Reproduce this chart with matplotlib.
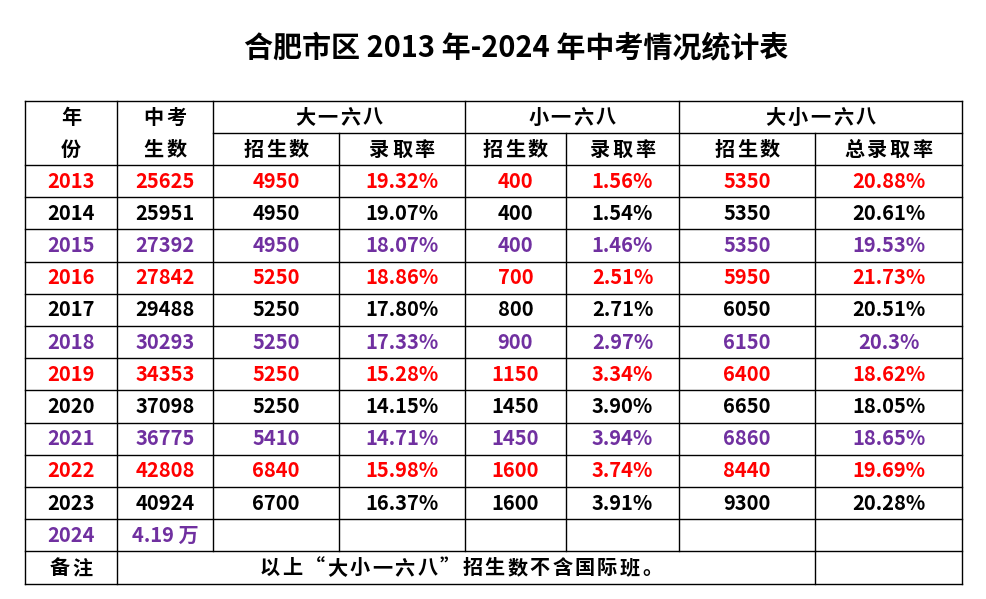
import matplotlib
matplotlib.use("Agg")
import matplotlib.pyplot as plt

plt.rcParams['font.family'] = ['Noto Sans CJK SC', 'DejaVu Sans']

title = "合肥市区 2013 年-2024 年中考情况统计表"
years = ["2013", "2014", "2015", "2016", "2017", "2018", "2019", "2020", "2021", "2022", "2023", "2024"]
exam_students = ["25625", "25951", "27392", "27842", "29488", "30293", "34353", "37098", "36775", "42808", "40924", "4.19 万"]
big_enroll = ["4950", "4950", "4950", "5250", "5250", "5250", "5250", "5250", "5410", "6840", "6700"]
big_rate = ["19.32%", "19.07%", "18.07%", "18.86%", "17.80%", "17.33%", "15.28%", "14.15%", "14.71%", "15.98%", "16.37%"]
small_enroll = ["400", "400", "400", "700", "800", "900", "1150", "1450", "1450", "1600", "1600"]
small_rate = ["1.56%", "1.54%", "1.46%", "2.51%", "2.71%", "2.97%", "3.34%", "3.90%", "3.94%", "3.74%", "3.91%"]
total_enroll = ["5350", "5350", "5350", "5950", "6050", "6150", "6400", "6650", "6860", "8440", "9300"]
total_rate = ["20.88%", "20.61%", "19.53%", "21.73%", "20.51%", "20.3%", "18.62%", "18.05%", "18.65%", "19.69%", "20.28%"]
group_headers = ["大一六八", "小一六八", "大小一六八"]
sub_headers = ["招生数", "录取率", "招生数", "录取率", "招生数", "总录取率"]
note_label = "备注"
note_text = "以上“大小一六八”招生数不含国际班。"

row_colors = ["#FF0000", "#000000", "#7030A0"]

W, H = 987, 599
fig = plt.figure(figsize=(W / 100, H / 100), dpi=100)
ax = fig.add_axes([0, 0, 1, 1])
ax.set_xlim(0, W)
ax.set_ylim(H, 0)
ax.axis('off')

xs = [25, 117, 213, 339, 465, 566, 679, 815, 962]
y_top = 101
y_mid = 133
y_hdr = 165
rh = 32.2
n_data = len(big_enroll)
y_rows = [y_hdr + i * rh for i in range(n_data + 3)]
y_bottom = y_rows[-1]

lw = 1.0
def hline(x0, x1, y):
    ax.plot([x0, x1], [y, y], color='black', lw=lw, solid_capstyle='projecting')
def vline(x, y0, y1):
    ax.plot([x, x], [y0, y1], color='black', lw=lw, solid_capstyle='projecting')

hline(xs[0], xs[-1], y_top)
hline(xs[2], xs[-1], y_mid)
for y in y_rows:
    hline(xs[0], xs[-1], y)
vline(xs[0], y_top, y_bottom)
vline(xs[-1], y_top, y_bottom)
vline(xs[1], y_top, y_bottom)
vline(xs[2], y_top, y_rows[-2])
for xi in [3, 5, 7]:
    vline(xs[xi], y_mid, y_rows[-2])
vline(xs[4], y_top, y_rows[-2])
vline(xs[6], y_top, y_rows[-2])
vline(xs[7], y_rows[-2], y_bottom)

fs = 14.5
def txt(x, y, s, color='black', size=fs):
    ax.text(x, y, s, ha='center', va='center', fontsize=size, fontweight='bold', color=color)

def spaced(x, y, s, color='black', pitch=22.5, size=fs):
    n = len(s)
    x0 = x - (n - 1) * pitch / 2
    for i, ch in enumerate(s):
        ax.text(x0 + i * pitch, y, ch, ha='center', va='center', fontsize=size,
                fontweight='bold', color=color)

ax.text(516, 47, title, ha='center', va='center', fontsize=20.9, fontweight='bold', color='black')

cx = [(xs[i] + xs[i + 1]) / 2 for i in range(len(xs) - 1)]
ytop_c = (y_top + y_mid) / 2
ysub_c = (y_mid + y_hdr) / 2
spaced(cx[0], ytop_c, "年")
spaced(cx[0], ysub_c, "份")
spaced(cx[1], ytop_c, "中考")
spaced(cx[1], ysub_c, "生数")
spaced((xs[2] + xs[4]) / 2, ytop_c, group_headers[0])
spaced((xs[4] + xs[6]) / 2, ytop_c, group_headers[1])
spaced((xs[6] + xs[8]) / 2, ytop_c, group_headers[2])
for i, s in enumerate(sub_headers):
    spaced(cx[i + 2], ysub_c, s)

cols = [big_enroll, big_rate, small_enroll, small_rate, total_enroll, total_rate]
for r in range(len(years)):
    yc = (y_rows[r] + y_rows[r + 1]) / 2
    c = row_colors[r % 3]
    txt(cx[0], yc, years[r], c)
    txt(cx[1], yc, exam_students[r], c)
    if r < n_data:
        for j, col in enumerate(cols):
            txt(cx[j + 2], yc, col[r], c)

yc = (y_rows[-2] + y_rows[-1]) / 2
spaced(cx[0], yc, note_label)
spaced((xs[1] + xs[7]) / 2 - 5, yc, note_text)

fig.savefig("out.png", dpi=100)
